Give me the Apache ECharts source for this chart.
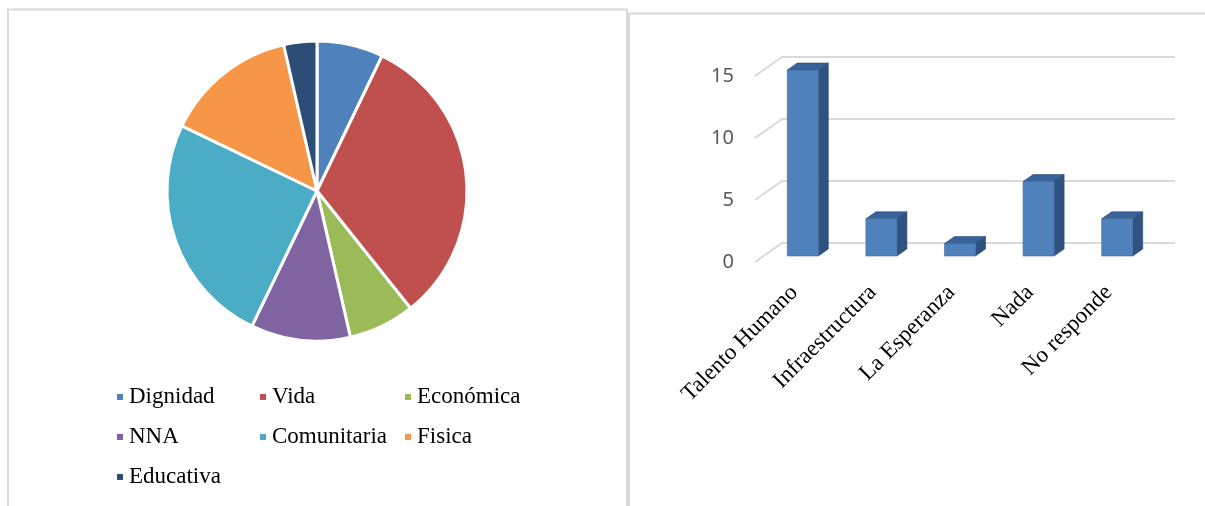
<!DOCTYPE html>
<html>
<head>
<meta charset="utf-8">
<script src="https://cdn.jsdelivr.net/npm/echarts@6/dist/echarts.min.js"></script>
<style>
html,body{margin:0;padding:0;background:#fff;}
#main{width:1205px;height:506px;}
</style>
</head>
<body>
<div id="main"></div>
<script>
// Pie data
const pieNames = ['Dignidad', 'Vida', 'Económica', 'NNA', 'Comunitaria', 'Fisica', 'Educativa'];
const pieValues = [2, 9, 2, 3, 7, 4, 1];
const pieColors = ['#4F81BD', '#C0504D', '#9BBB59', '#8064A2', '#4BACC6', '#F79646', '#2C4D75'];

// Bar data
const barCategories = ['Talento Humano', 'Infraestructura', 'La Esperanza', 'Nada', 'No responde'];
const barValues = [15, 3, 1, 6, 3];
const yTicks = [0, 5, 10, 15];

const chart = echarts.init(document.getElementById('main'), null, {renderer: 'canvas'});

const DEPTH = [27, -19];      // full floor depth (px)
const BAR_OFF = [8.5, -6];    // bar front face offset into depth
const BAR_D = [10, -7];       // bar depth

const legendText = {fontFamily: 'Liberation Serif', fontSize: 23, color: '#000', lineHeight: 24};
function legendCol(left, names) {
  return {
    orient: 'vertical', left: left, top: 380, itemGap: 16,
    itemWidth: 8, itemHeight: 8, icon: 'rect', textStyle: legendText,
    data: names, selectedMode: true
  };
}

const option = {
  animation: false,
  color: pieColors,
  graphic: [
    {type: 'rect', shape: {x: 8, y: 9.5, width: 619, height: 520}, style: {fill: 'none', stroke: '#d9d9d9', lineWidth: 2}, silent: true, z: -10},
    {type: 'rect', shape: {x: 629, y: 13.5, width: 600, height: 520}, style: {fill: 'none', stroke: '#d9d9d9', lineWidth: 2}, silent: true, z: -10}
  ],
  legend: [
    legendCol(110, [pieNames[0], pieNames[3], pieNames[6]]),
    legendCol(253, [pieNames[1], pieNames[4]]),
    legendCol(398, [pieNames[2], pieNames[5]])
  ],
  grid: {left: 755, right: 57, top: 76, bottom: 244},
  xAxis: {
    type: 'category', data: barCategories,
    axisLine: {show: false}, axisTick: {show: false},
    axisLabel: {rotate: 45, margin: 27, interval: 0, fontFamily: 'Liberation Serif', fontSize: 23, color: '#000'}
  },
  yAxis: {
    type: 'value', min: 0, max: 15, interval: 5,
    axisLine: {show: false}, axisTick: {show: false}, splitLine: {show: false},
    axisLabel: {margin: 21, fontFamily: 'Noto Sans', fontSize: 20, color: '#595959'}
  },
  series: [
    {
      type: 'pie', center: [317, 191], radius: 150, startAngle: 90, clockwise: true,
      label: {show: false}, labelLine: {show: false},
      itemStyle: {borderColor: '#fff', borderWidth: 3},
      data: pieNames.map((n, i) => ({name: n, value: pieValues[i], itemStyle: {color: pieColors[i]}}))
    },
    {
      type: 'custom', silent: true, z: 1,
      data: yTicks.map(v => [0, v]),
      renderItem: function (params, api) {
        const cs = params.coordSys;
        const y = api.coord([0, api.value(1)])[1];
        const x0 = cs.x, xR = cs.x + cs.width;
        return {
          type: 'polyline',
          shape: {points: [[x0, y], [x0 + DEPTH[0], y + DEPTH[1]], [xR + DEPTH[0], y + DEPTH[1]]]},
          style: {stroke: '#d9d9d9', lineWidth: 2, fill: 'none'}
        };
      }
    },
    {
      type: 'custom', z: 3,
      data: barValues.map((v, i) => [i, v]),
      renderItem: function (params, api) {
        const idx = api.value(0), val = api.value(1);
        const p0 = api.coord([idx, 0]);
        const p1 = api.coord([idx, val]);
        const bw = api.size([1, 0])[0] * 0.395;
        const xl = p0[0] - bw / 2 + BAR_OFF[0], xr = p0[0] + bw / 2 + BAR_OFF[0];
        const yb = p0[1] + BAR_OFF[1], yt = p1[1] + BAR_OFF[1];
        const dx = BAR_D[0], dy = BAR_D[1];
        return {
          type: 'group',
          children: [
            {type: 'polygon', shape: {points: [[xr, yt], [xr + dx, yt + dy], [xr + dx, yb + dy], [xr, yb]]},
             style: {fill: '#2F5281', stroke: '#2A4A75', lineWidth: 0.6}},
            {type: 'polygon', shape: {points: [[xl, yt], [xl + dx, yt + dy], [xr + dx, yt + dy], [xr, yt]]},
             style: {fill: '#37629A', stroke: '#2A4A75', lineWidth: 0.6}},
            {type: 'rect', shape: {x: xl, y: yt, width: xr - xl, height: yb - yt},
             style: {fill: '#4F81BD', stroke: '#41699C', lineWidth: 0.6}}
          ]
        };
      }
    }
  ]
};
chart.setOption(option);
</script>
</body>
</html>
